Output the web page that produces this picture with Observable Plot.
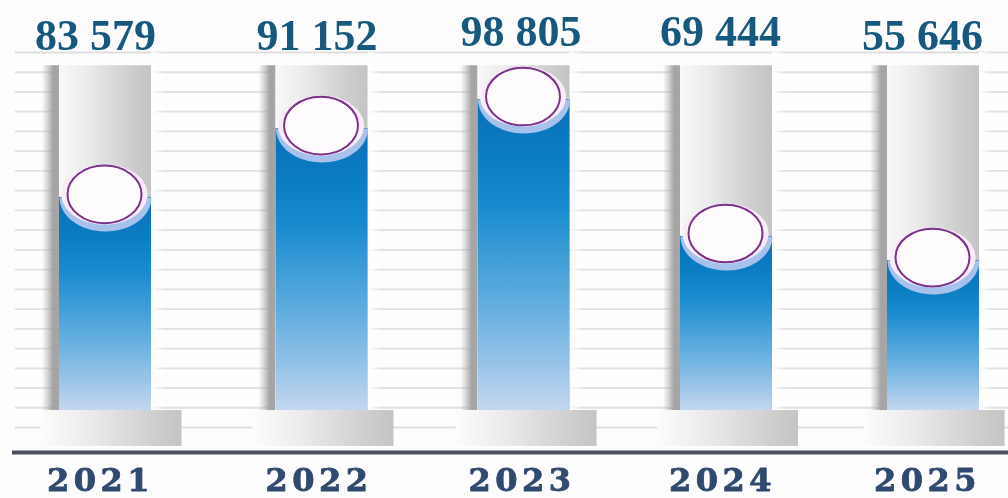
<!DOCTYPE html>
<html><head><meta charset="utf-8">
<script src="https://cdn.jsdelivr.net/npm/d3@7"></script>
<script src="https://cdn.jsdelivr.net/npm/@observablehq/plot@0.6"></script>
<style>
html,body{margin:0;padding:0;background:#fdfdfd;overflow:hidden}
svg{display:block;filter:blur(.7px)}
.yr{letter-spacing:4.5px}
</style></head><body><div id="c"></div>
<script>
// Data
const years = [2021, 2022, 2023, 2024, 2025];
const values = [83579, 91152, 98805, 69444, 55646];
// Liquid level in each tube, in background grid rows above the tube base
const levels = [10.81, 14.3, 15.77, 8.83, 7.61];
const gridRows = [-1,0,1,2,3,4,5,6,7,8,9,10,11,12,13,14,15,16,17,18];

// Layout
const tubeCentres = [105, 321.5, 523.5, 726, 933];
const valueNudge = [[-10,-17],[-5,-17],[-3,-21],[-6,-21],[-11,-17]];
const yearNudge = [-5,-3,-2,-4,-6];
const footNudge = [3.5,-1,0,-1,-1.5];
const rows = years.map((year,i)=>({year,value:values[i],level:levels[i],label:d3.format(",")(values[i]).replace(",", " ")}));
const half = 46;

function ellipse(aspect, lowerOnly){
  return {draw(ctx,size){
    const r=Math.sqrt(size/Math.PI), ry=r*aspect, k=0.5523;
    ctx.moveTo(-r,0);
    ctx.bezierCurveTo(-r,k*ry,-k*r,ry,0,ry);
    ctx.bezierCurveTo(k*r,ry,r,k*ry,r,0);
    if(!lowerOnly){
      ctx.bezierCurveTo(r,-k*ry,k*r,-ry,0,-ry);
      ctx.bezierCurveTo(-k*r,-ry,-r,-k*ry,-r,0);
    }
    ctx.closePath();
  }};
}
function gradient(defs,id,horizontal,stops){
  const g=defs.append("linearGradient").attr("id",id).attr("x1",0).attr("y1",0)
    .attr("x2",horizontal?1:0).attr("y2",horizontal?0:1);
  stops.forEach(([o,c,a])=>g.append("stop").attr("offset",o).attr("stop-color",c).attr("stop-opacity",a??1));
}
function gradients(){
  const defs=d3.create("svg:defs");
  gradient(defs,"tube",true,[[0,"#f8f8f8"],[.3,"#ececec"],[.75,"#cfcfcf"],[1,"#c4c4c4"]]);
  gradient(defs,"liquid",false,[[0,"#0870b8"],[.18,"#0c7cc2"],[.35,"#1a8bcf"],[.66,"#62aee0"],[.85,"#97c3e8"],[1,"#c3d7ef"]]);
  gradient(defs,"shade",true,[[0,"#a2a2a2",0],[.3,"#a2a2a2",.4],[.65,"#a0a0a0",.95],[1,"#a6a6a6",1]]);
  gradient(defs,"fade",true,[[0,"#ffffff",1],[1,"#ffffff",0]]);
  gradient(defs,"foot",true,[[0,"#fcfcfc"],[.35,"#ebebeb"],[.8,"#cfcfcf"],[1,"#c4c4c4"]]);
  return defs.node();
}

const plot = Plot.plot({
  width:1008,height:498,
  margin:0,
  style:{background:"#fdfdfd"},
  x:{type:"linear",domain:years,range:tubeCentres,axis:null},
  y:{type:"linear",domain:[-1,18],range:[427,52],axis:null},
  marks:[
    gradients,
    Plot.ruleY(gridRows,{stroke:"#dfdfdf",strokeWidth:1.8,insetLeft:15}),
    Plot.rect(rows,{x1:"year",x2:"year",y1:-0.14,y2:17.33,insetLeft:-63,insetRight:46,fill:"url(#shade)"}),
    Plot.rect(rows,{x1:"year",x2:"year",y1:-0.14,y2:18,insetLeft:46,insetRight:-60,fill:"url(#fade)"}),
    ...rows.map((r,i)=>Plot.rect([r],{x1:"year",x2:"year",y1:-0.14,y2:-1.96,dx:footNudge[i],insetLeft:-68,insetRight:-73,fill:"url(#foot)"})),
    Plot.rect(rows,{x1:"year",x2:"year",y1:-0.14,y2:17.33,insetLeft:-half,insetRight:-half,fill:"url(#tube)"}),
    Plot.rect(rows,{x1:"year",x2:"year",y1:-0.14,y2:"level",insetTop:3,insetLeft:-half,insetRight:-half,fill:"url(#liquid)"}),
    Plot.dot(rows,{x:"year",y:"level",dy:3,r:46,symbol:ellipse(.74,true),fill:"#a6c2ec"}),
    Plot.dot(rows,{x:"year",y:"level",dx:-1,r:43,symbol:ellipse(.7),fill:"#f8ecf8"}),
    Plot.dot(rows,{x:"year",y:"level",dx:-1,r:37,symbol:ellipse(.78),fill:"#fefcfe",stroke:"#7a3388",strokeWidth:2}),
    Plot.ruleY([-2.27],{stroke:"#4b4f5e",strokeWidth:4,insetLeft:12}),
    ...rows.map((r,i)=>Plot.text([r],{x:"year",y:18,text:"label",dx:valueNudge[i][0],dy:valueNudge[i][1],
      fontFamily:"Liberation Serif",fontWeight:"bold",fontSize:44,fill:"#17587e"})),
    ...rows.map((r,i)=>Plot.text([r],{x:"year",y:-3.7,text:d=>String(d.year),dx:yearNudge[i],
      className:"yr",fontFamily:"DejaVu Serif",fontWeight:"bold",fontSize:32,fill:"#2f4a6e",stroke:"#2f4a6e",strokeWidth:.8}))
  ]
});
document.getElementById("c").append(plot);
</script></body></html>
